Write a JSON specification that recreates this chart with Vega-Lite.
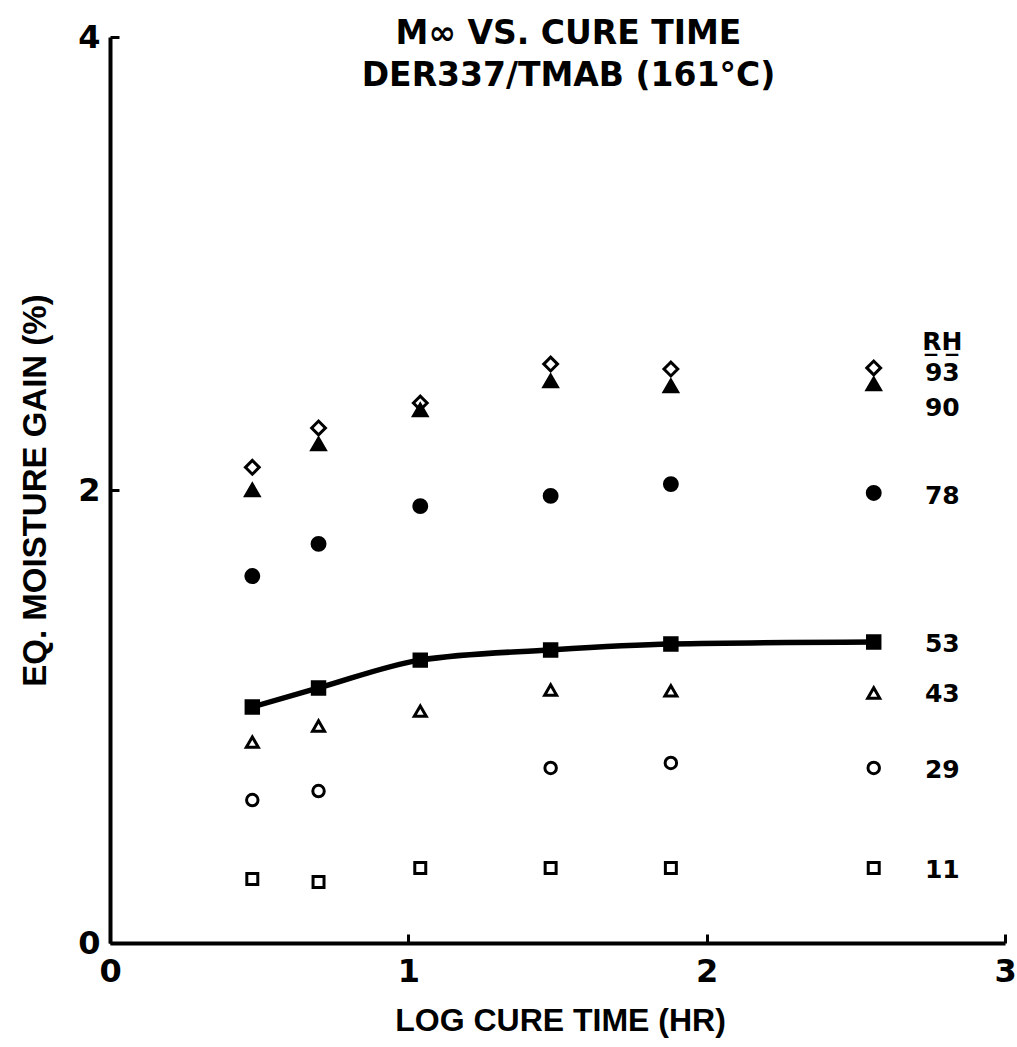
{
  "$schema": "https://vega.github.io/schema/vega-lite/v6.json",
  "width": 895,
  "height": 906,
  "autosize": "none",
  "padding": {"left": 110, "top": 37, "right": 12, "bottom": 104},
  "background": "white",
  "config": {
    "view": {"stroke": null},
    "font": "DejaVu Sans"
  },
  "title": {
    "text": ["M∞ VS. CURE TIME", "DER337/TMAB (161°C)"],
    "anchor": "middle",
    "frame": "group",
    "offset": -72,
    "dx": 11,
    "fontSize": 33,
    "fontWeight": "bold",
    "font": "DejaVu Sans",
    "lineHeight": 42,
    "color": "black"
  },
  "datasets": {
    "pts": [
      {"t": 0.477, "m": 2.10, "rh": "93"},
      {"t": 0.699, "m": 2.274, "rh": "93"},
      {"t": 1.04, "m": 2.384, "rh": "93"},
      {"t": 1.477, "m": 2.556, "rh": "93"},
      {"t": 1.88, "m": 2.534, "rh": "93"},
      {"t": 2.56, "m": 2.539, "rh": "93"},
      {"t": 0.477, "m": 2.0, "rh": "90"},
      {"t": 0.699, "m": 2.203, "rh": "90"},
      {"t": 1.04, "m": 2.353, "rh": "90"},
      {"t": 1.477, "m": 2.481, "rh": "90"},
      {"t": 1.88, "m": 2.459, "rh": "90"},
      {"t": 2.56, "m": 2.468, "rh": "90"},
      {"t": 0.477, "m": 1.62, "rh": "78"},
      {"t": 0.699, "m": 1.762, "rh": "78"},
      {"t": 1.04, "m": 1.929, "rh": "78"},
      {"t": 1.477, "m": 1.974, "rh": "78"},
      {"t": 1.88, "m": 2.026, "rh": "78"},
      {"t": 2.56, "m": 1.987, "rh": "78"},
      {"t": 0.477, "m": 1.042, "rh": "53"},
      {"t": 0.699, "m": 1.126, "rh": "53"},
      {"t": 1.04, "m": 1.249, "rh": "53"},
      {"t": 1.477, "m": 1.294, "rh": "53"},
      {"t": 1.88, "m": 1.32, "rh": "53"},
      {"t": 2.56, "m": 1.329, "rh": "53"},
      {"t": 0.477, "m": 0.887, "rh": "43"},
      {"t": 0.699, "m": 0.958, "rh": "43"},
      {"t": 1.04, "m": 1.024, "rh": "43"},
      {"t": 1.477, "m": 1.117, "rh": "43"},
      {"t": 1.88, "m": 1.113, "rh": "43"},
      {"t": 2.56, "m": 1.104, "rh": "43"},
      {"t": 0.477, "m": 0.631, "rh": "29"},
      {"t": 0.699, "m": 0.671, "rh": "29"},
      {"t": 1.477, "m": 0.773, "rh": "29"},
      {"t": 1.88, "m": 0.795, "rh": "29"},
      {"t": 2.56, "m": 0.773, "rh": "29"},
      {"t": 0.477, "m": 0.283, "rh": "11"},
      {"t": 0.699, "m": 0.269, "rh": "11"},
      {"t": 1.04, "m": 0.331, "rh": "11"},
      {"t": 1.477, "m": 0.331, "rh": "11"},
      {"t": 1.88, "m": 0.331, "rh": "11"},
      {"t": 2.56, "m": 0.331, "rh": "11"}
    ],
    "labels": [
      {"t": 2.79, "m": 2.653, "label": "R̲H̲"},
      {"t": 2.79, "m": 2.517, "label": "93"},
      {"t": 2.79, "m": 2.362, "label": "90"},
      {"t": 2.79, "m": 1.973, "label": "78"},
      {"t": 2.79, "m": 1.32, "label": "53"},
      {"t": 2.79, "m": 1.099, "label": "43"},
      {"t": 2.79, "m": 0.764, "label": "29"},
      {"t": 2.79, "m": 0.322, "label": "11"}
    ]
  },
  "encoding": {
    "x": {
      "field": "t", "type": "quantitative",
      "scale": {"domain": [0, 3], "nice": false, "zero": false},
      "axis": {
        "title": "LOG CURE TIME (HR)",
        "values": [0, 1, 2, 3],
        "format": "d",
        "grid": false,
        "domainColor": "black", "domainWidth": 4,
        "tickColor": "black", "tickWidth": 3, "tickSize": -9,
        "labelFont": "DejaVu Sans", "labelFontSize": 32, "labelFontWeight": "bold",
        "labelColor": "black", "labelPadding": 22, "labelFlush": false,
        "titleFont": "Liberation Sans", "titleFontSize": 32, "titleFontWeight": "bold",
        "titleColor": "black", "titleX": 450, "titleY": 77, "titleBaseline": "middle"
      }
    },
    "y": {
      "field": "m", "type": "quantitative",
      "scale": {"domain": [0, 4], "nice": false, "zero": false},
      "axis": {
        "title": "EQ. MOISTURE GAIN (%)",
        "values": [0, 2, 4],
        "format": "d",
        "grid": false,
        "domainColor": "black", "domainWidth": 4,
        "tickColor": "black", "tickWidth": 3, "tickSize": -9,
        "labelFont": "DejaVu Sans", "labelFontSize": 32, "labelFontWeight": "bold",
        "labelColor": "black", "labelPadding": 19, "labelFlush": false,
        "titleFont": "Liberation Sans", "titleFontSize": 33, "titleFontWeight": "bold",
        "titleColor": "black", "titleX": -75, "titleY": 453, "titleBaseline": "middle", "titleAngle": -90
      }
    }
  },
  "layer": [
    {
      "data": {"name": "pts"},
      "transform": [{"filter": "datum.rh == '53'"}],
      "mark": {"type": "line", "interpolate": "monotone", "color": "black", "strokeWidth": 5.5},
      "encoding": {}
    },
    {
      "data": {"name": "pts"},
      "mark": {"type": "point", "stroke": "black", "strokeWidth": 3, "opacity": 1, "fillOpacity": 1},
      "encoding": {
        "shape": {
          "field": "rh", "type": "nominal", "legend": null,
          "scale": {"domain": ["93", "90", "78", "53", "43", "29", "11"],
                    "range": ["diamond", "triangle-up", "circle", "square", "triangle-up", "circle", "square"]}
        },
        "fill": {
          "field": "rh", "type": "nominal", "legend": null,
          "scale": {"domain": ["93", "90", "78", "53", "43", "29", "11"],
                    "range": ["white", "black", "black", "black", "white", "white", "white"]}
        },
        "size": {
          "field": "rh", "type": "nominal", "legend": null,
          "scale": {"domain": ["93", "90", "78", "53", "43", "29", "11"],
                    "range": [190, 120, 270, 110, 95, 140, 80]}
        }
      }
    },
    {
      "data": {"name": "labels"},
      "mark": {"type": "text", "font": "DejaVu Sans", "fontSize": 25, "fontWeight": "bold", "color": "black", "align": "center", "baseline": "middle"},
      "encoding": {
        "text": {"field": "label", "type": "nominal"}
      }
    }
  ]
}
